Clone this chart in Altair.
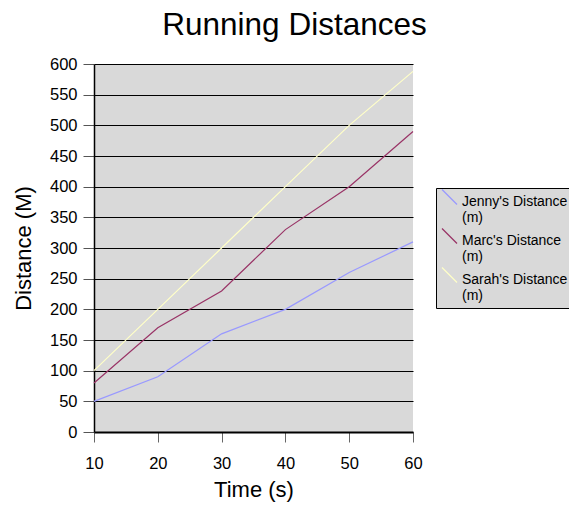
import altair as alt
import pandas as pd

times = [10, 20, 30, 40, 50, 60]
jenny = [50, 90, 160, 200, 260, 310]
marc = [80, 170, 230, 330, 400, 490]
sarah = [100, 200, 300, 400, 500, 588]
series_names = ["Jenny's Distance (m)", "Marc's Distance (m)", "Sarah's Distance (m)"]
series_colors = ["#9999FF", "#993366", "#FFFFC8"]

rows = []
for name, vals in zip(series_names, [jenny, marc, sarah]):
    for t, v in zip(times, vals):
        rows.append({"Time": t, "Distance": v, "Series": name})
df = pd.DataFrame(rows)

FONT = "Liberation Sans"

chart = alt.Chart(df).mark_line(strokeWidth=1.2).encode(
    x=alt.X("Time:Q", scale=alt.Scale(domain=[10, 60], nice=False, zero=False),
            axis=alt.Axis(title="Time (s)", values=times, grid=False, tickSize=10,
                          tickColor="#666666", labelFontSize=16.5, labelPadding=13,
                          titleFontSize=22, titleFontWeight="normal", titlePadding=8,
                          domainColor="black", domainWidth=2, labelFont=FONT, titleFont=FONT,
                          labelColor="black", titleColor="black", labelFlush=False)),
    y=alt.Y("Distance:Q", scale=alt.Scale(domain=[0, 600], nice=False),
            axis=alt.Axis(title="Distance (M)", values=list(range(0, 601, 50)), grid=True,
                          gridColor="black", gridWidth=1, gridOpacity=1, tickSize=11,
                          tickColor="#555555", labelFontSize=16.5, labelPadding=6,
                          titleFontSize=22, titleFontWeight="normal", titlePadding=14,
                          domainColor="black", domainWidth=1.5, labelFont=FONT, titleFont=FONT,
                          labelColor="black", titleColor="black")),
    color=alt.Color("Series:N", scale=alt.Scale(domain=series_names, range=series_colors),
                    legend=alt.Legend(title=None, orient="none", legendX=342, legendY=124,
                                      fillColor="#d9d9d9", strokeColor="black", padding=5,
                                      labelFont=FONT, labelFontSize=14, labelColor="black",
                                      labelOffset=4,
                                      labelExpr="[replace(datum.label, ' (m)', ''), '(m)']",
                                      symbolType="M-1,-1.6L1,0.4", symbolSize=225,
                                      symbolStrokeWidth=1.2, rowPadding=1, labelLimit=200)),
).properties(
    width=319, height=368,
    title=alt.TitleParams("Running Distances", fontSize=31.5, font=FONT, fontWeight="normal",
                          color="black", anchor="middle", dx=41, offset=15),
    autosize=alt.AutoSizeParams(type="none"),
    padding={"left": 86, "top": 56, "right": 156, "bottom": 74},
).configure_view(fill="#d9d9d9", stroke=None)

chart.save("out.html", embed_options={"renderer": "svg", "actions": False})
